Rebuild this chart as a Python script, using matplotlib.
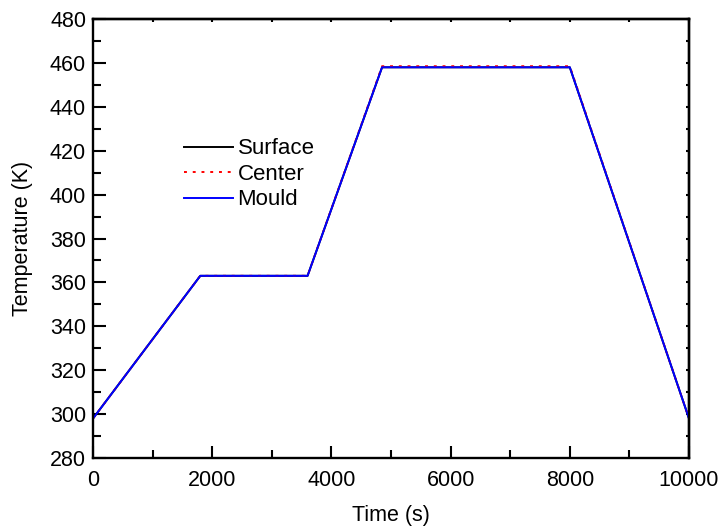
import matplotlib
matplotlib.use("Agg")
import matplotlib.pyplot as plt
from matplotlib.ticker import MultipleLocator

plt.rcParams['font.family'] = ['Liberation Sans', 'DejaVu Sans']

# heating schedule: ramp, hold, ramp, hold, cool
time_s = [0, 1800, 3600, 4850, 8000, 10000]
surface_K = [298, 363, 363, 458, 458, 298]
center_K = [298, 363, 363, 458.5, 458.5, 298]
mould_K = [298, 363, 363, 458, 458, 298]

fig = plt.figure(figsize=(7.23, 5.32), dpi=100)
ax = fig.add_axes([93/723, 1-458/532, (689-93)/723, (458-19)/532])

ax.plot(time_s, surface_K, color='black', lw=1.4, label='Surface')
ax.plot(time_s, center_K, color='red', lw=1.4, ls=(0, (1.5, 3)), label='Center')
ax.plot(time_s, mould_K, color='blue', lw=1.4, label='Mould')

ax.set_xlim(0, 10000)
ax.set_ylim(280, 480)
ax.xaxis.set_major_locator(MultipleLocator(2000))
ax.xaxis.set_minor_locator(MultipleLocator(1000))
ax.yaxis.set_major_locator(MultipleLocator(20))
ax.yaxis.set_minor_locator(MultipleLocator(10))

ax.tick_params(which='major', direction='in', length=9, width=1.5, labelsize=15.5, pad=5)
ax.tick_params(axis='x', which='major', pad=9)
ax.tick_params(which='minor', direction='in', length=6, width=1.5)

# small ticks on the top and right frame
top = ax.secondary_xaxis('top')
top.xaxis.set_major_locator(MultipleLocator(1000))
top.tick_params(direction='in', length=2.5, width=1.5, labeltop=False)
right = ax.secondary_yaxis('right')
right.yaxis.set_major_locator(MultipleLocator(10))
right.tick_params(direction='in', length=2.5, width=1.5, labelright=False)
for a in (ax, top, right):
    for s in a.spines.values():
        s.set_linewidth(1.7)

ax.set_xlabel('Time (s)', fontsize=15.5, labelpad=10)
ax.set_ylabel('Temperature (K)', fontsize=15.5, labelpad=12)

ax.legend(loc='upper left', bbox_to_anchor=(0.153, 0.728), frameon=False, fontsize=16,
          handlelength=2.2, handletextpad=0.2, labelspacing=0.2, borderpad=0,
          borderaxespad=0)

fig.savefig('out.png', dpi=100)
